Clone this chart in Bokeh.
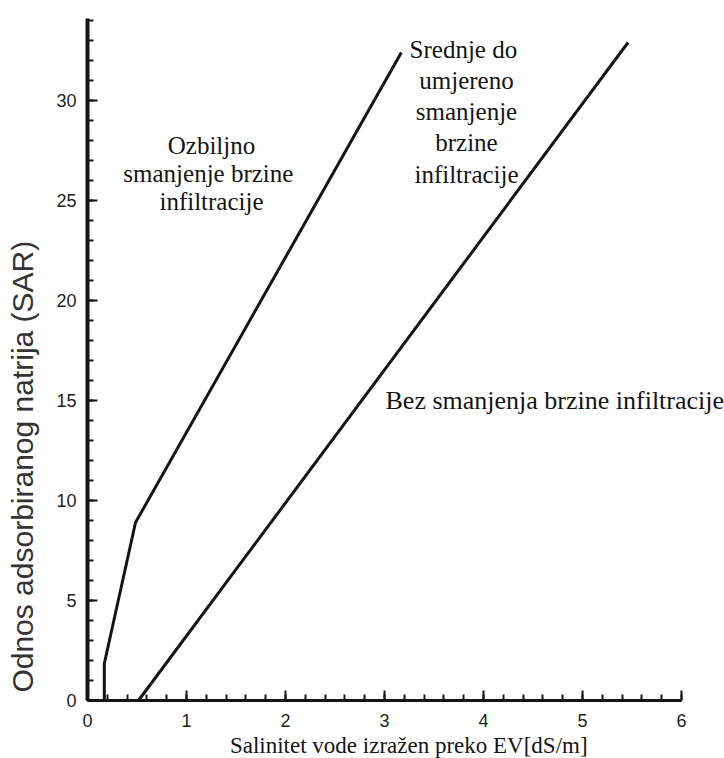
from math import pi
from bokeh.plotting import figure
from bokeh.models import Range1d, FixedTicker, Label, LinearAxis
from bokeh.embed import file_html
from bokeh.resources import INLINE

# --- data ---
x_ticks = [0, 1, 2, 3, 4, 5, 6]
y_ticks = [0, 5, 10, 15, 20, 25, 30]

# boundary between "severe" and "slight to moderate" reduction
severe_ec = [0.17, 0.17, 0.485, 3.17]
severe_sar = [0.0, 1.85, 8.9, 32.4]

# boundary between "slight to moderate" and "no reduction"
none_ec = [0.515, 5.46]
none_sar = [0.0, 32.9]

x_label = "Salinitet  vode izražen  preko EV[dS/m]"
y_label = "Odnos adsorbiranog natrija  (SAR)"
zone_severe = "Ozbiljno\nsmanjenje  brzine\ninfiltracije"
zone_moderate = "Srednje  do\numjereno\nsmanjenje\nbrzine\ninfiltracije"
zone_none = "Bez smanjenja  brzine infiltracije"

ink = "#141414"
W, H = 724, 758
X0, Y0, SX, SY = 87, 700, 99, 20   # pixel position of the origin and pixels per unit


def dx(px):
    return (px - X0) / SX


def dy(py):
    return (Y0 - py) / SY


p = figure(width=W, height=H, output_backend="svg", toolbar_location=None,
           x_range=Range1d(dx(0), dx(W)), y_range=Range1d(dy(H), dy(0)),
           x_axis_location=None, y_axis_location=None,
           min_border=0, min_border_left=0, min_border_right=0,
           min_border_top=0, min_border_bottom=0)
p.outline_line_color = None
p.grid.visible = False
p.background_fill_color = "white"
p.border_fill_color = "white"

# axes (ticks point into the plot, as in the reference)
xa = LinearAxis(fixed_location=0)
xa.ticker = FixedTicker(ticks=x_ticks, minor_ticks=[i / 5 for i in range(0, 31)])
xa.bounds = (0, 6)
xa.axis_line_width = 3
xa.axis_line_color = ink
xa.major_tick_in = 10
xa.major_tick_out = 0
xa.minor_tick_in = 6
xa.minor_tick_out = 0
xa.major_tick_line_width = 2
xa.minor_tick_line_width = 2
xa.major_tick_line_color = ink
xa.minor_tick_line_color = ink
xa.major_label_text_font = "Liberation Sans"
xa.major_label_text_font_size = "18px"
xa.major_label_text_color = "#222222"
xa.major_label_standoff = 13
p.add_layout(xa, "below")

ya = LinearAxis(fixed_location=0)
ya.ticker = FixedTicker(ticks=y_ticks, minor_ticks=list(range(0, 35)))
ya.bounds = (0, 34.1)
ya.axis_line_width = 4
ya.axis_line_color = ink
ya.major_tick_in = 10
ya.major_tick_out = 0
ya.minor_tick_in = 6
ya.minor_tick_out = 0
ya.major_tick_line_width = 2
ya.minor_tick_line_width = 2
ya.major_tick_line_color = ink
ya.minor_tick_line_color = ink
ya.major_label_text_font = "Liberation Sans"
ya.major_label_text_font_size = "18px"
ya.major_label_text_color = "#222222"
ya.major_label_standoff = 11
p.add_layout(ya, "left")

# boundary lines
p.line(severe_ec, severe_sar, line_width=3, line_color=ink)
p.line(none_ec, none_sar, line_width=3, line_color=ink)

# zone labels
serif = "Liberation Serif"
p.add_layout(Label(x=dx(211), y=dy(131), text=zone_severe,
                   text_font=serif, text_font_size="25px", text_color=ink,
                   text_align="center", text_baseline="top", text_line_height=1.05))
p.add_layout(Label(x=dx(466), y=dy(35), text=zone_moderate,
                   text_font=serif, text_font_size="25px", text_color=ink,
                   text_align="center", text_baseline="top", text_line_height=1.16))
p.add_layout(Label(x=dx(385), y=dy(400), text=zone_none,
                   text_font=serif, text_font_size="26px", text_color=ink,
                   text_align="left", text_baseline="alphabetic"))

# axis titles
p.add_layout(Label(x=dx(414), y=dy(745), text=x_label,
                   text_font=serif, text_font_size="23px", text_color=ink,
                   text_align="center", text_baseline="alphabetic"))
p.add_layout(Label(x=dx(22), y=dy(462), text=y_label, angle=pi / 2,
                   text_font="Liberation Sans", text_font_size="30px", text_color="#333333",
                   text_align="center", text_baseline="alphabetic"))

open("out.html", "w").write(file_html(p, INLINE))
